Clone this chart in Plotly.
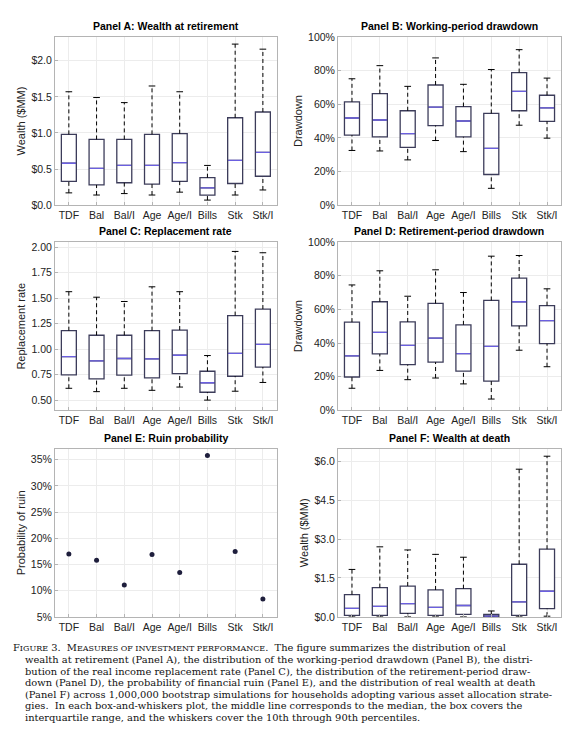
import plotly.graph_objects as go

strategies = ["TDF", "Bal", "Bal/I", "Age", "Age/I", "Bills", "Stk", "Stk/I"]

# Panel A: wealth at retirement ($MM) - 10th, 25th, 50th, 75th, 90th pct
a_p10 = [0.17, 0.14, 0.16, 0.14, 0.18, 0.07, 0.14, 0.21]
a_p25 = [0.33, 0.28, 0.31, 0.29, 0.33, 0.14, 0.30, 0.40]
a_p50 = [0.58, 0.51, 0.55, 0.55, 0.59, 0.24, 0.62, 0.73]
a_p75 = [0.98, 0.91, 0.91, 0.98, 0.99, 0.38, 1.21, 1.29]
a_p90 = [1.57, 1.49, 1.42, 1.65, 1.57, 0.55, 2.23, 2.16]

# Panel B: working-period drawdown (%)
b_p10 = [32.5, 32.2, 26.9, 38.4, 31.8, 10.0, 47.5, 39.8]
b_p25 = [41.6, 40.6, 34.3, 47.3, 40.6, 18.2, 56.1, 49.8]
b_p50 = [51.8, 50.6, 42.5, 58.2, 50.0, 33.7, 67.6, 57.8]
b_p75 = [61.4, 66.3, 56.1, 71.4, 58.6, 54.5, 78.8, 65.3]
b_p90 = [75.1, 82.9, 70.6, 87.5, 71.8, 80.6, 92.4, 75.5]

# Panel C: replacement rate
c_p10 = [0.616, 0.583, 0.616, 0.596, 0.628, 0.500, 0.587, 0.673]
c_p25 = [0.747, 0.709, 0.744, 0.718, 0.760, 0.577, 0.734, 0.824]
c_p50 = [0.927, 0.885, 0.908, 0.905, 0.940, 0.670, 0.959, 1.046]
c_p75 = [1.181, 1.136, 1.136, 1.181, 1.187, 0.783, 1.329, 1.393]
c_p90 = [1.563, 1.509, 1.467, 1.611, 1.563, 0.937, 1.958, 1.945]

# Panel D: retirement-period drawdown (%)
d_p10 = [13.1, 23.7, 18.2, 19.2, 15.7, 6.7, 35.7, 25.9]
d_p25 = [19.8, 33.5, 27.1, 28.6, 23.3, 17.3, 50.2, 39.6]
d_p50 = [32.4, 46.3, 38.6, 42.9, 33.7, 38.0, 64.5, 53.3]
d_p75 = [52.4, 64.5, 52.5, 63.5, 50.8, 65.3, 78.6, 62.2]
d_p90 = [74.5, 82.9, 67.8, 83.5, 70.0, 91.6, 92.0, 72.2]

# Panel E: probability of ruin (%)
ruin_prob = [17.0, 15.8, 11.1, 16.9, 13.5, 35.8, 17.5, 8.4]

# Panel F: wealth at death ($MM)
f_p10 = [0.00, 0.00, 0.00, 0.00, 0.00, 0.00, 0.00, 0.03]
f_p25 = [0.06, 0.06, 0.14, 0.06, 0.10, 0.00, 0.06, 0.32]
f_p50 = [0.33, 0.41, 0.51, 0.37, 0.44, 0.03, 0.58, 0.99]
f_p75 = [0.86, 1.13, 1.19, 1.04, 1.09, 0.10, 2.03, 2.61]
f_p90 = [1.83, 2.70, 2.58, 2.41, 2.30, 0.23, 5.69, 6.19]

# y tick labels per panel
a_ticks = ["$0.0", "$0.5", "$1.0", "$1.5", "$2.0"]
pct_ticks = ["0%", "20%", "40%", "60%", "80%", "100%"]
c_ticks = ["0.50", "0.75", "1.00", "1.25", "1.50", "1.75", "2.00"]
e_ticks = ["5%", "10%", "15%", "20%", "25%", "30%", "35%"]
f_ticks = ["$0.0", "$1.5", "$3.0", "$4.5", "$6.0"]

caption_lines = [
    "F<span style='font-size:8px'>IGURE</span> 3.  M<span style='font-size:8px'>EASURES OF INVESTMENT PERFORMANCE</span>.  The figure summarizes the distribution of real",
    "wealth at retirement (Panel A), the distribution of the working-period drawdown (Panel B), the distri-",
    "bution of the real income replacement rate (Panel C), the distribution of the retirement-period draw-",
    "down (Panel D), the probability of financial ruin (Panel E), and the distribution of real wealth at death",
    "(Panel F) across 1,000,000 bootstrap simulations for households adopting various asset allocation strate-",
    "gies.  In each box-and-whiskers plot, the middle line corresponds to the median, the box covers the",
    "interquartile range, and the whiskers cover the 10th through 90th percentiles.",
]

BOX_COL = "#3c3c5a"
MED_COL = "#6b5fe0"
FONT = "Liberation Sans"
pos = list(range(1, len(strategies) + 1))
half = 0.27
cap = 0.12

fig = go.Figure()


def add_boxes(ax, p10, p25, p50, p75, p90):
    xa = "x" if ax == 1 else f"x{ax}"
    ya = "y" if ax == 1 else f"y{ax}"
    # dashed whiskers
    wx, wy = [], []
    for i, x in enumerate(pos):
        wx += [x, x, None, x, x, None]
        wy += [p75[i], p90[i], None, p10[i], p25[i], None]
    fig.add_trace(go.Scatter(x=wx, y=wy, mode="lines", xaxis=xa, yaxis=ya,
                             line=dict(color="black", width=1, dash="4px,3px"),
                             hoverinfo="skip", showlegend=False))
    # caps
    cx, cy = [], []
    for i, x in enumerate(pos):
        cx += [x - cap, x + cap, None, x - cap, x + cap, None]
        cy += [p90[i], p90[i], None, p10[i], p10[i], None]
    fig.add_trace(go.Scatter(x=cx, y=cy, mode="lines", xaxis=xa, yaxis=ya,
                             line=dict(color="black", width=1),
                             hoverinfo="skip", showlegend=False))
    fig.add_trace(go.Box(x=pos, q1=p25, median=p50, q3=p75,
                         lowerfence=p25, upperfence=p75,
                         xaxis=xa, yaxis=ya, width=2 * half, whiskerwidth=0,
                         fillcolor="white", line=dict(color=BOX_COL, width=1.3),
                         showlegend=False, hoverinfo="skip"))
    mx, my = [], []
    for i, x in enumerate(pos):
        mx += [x - half + 0.02, x + half - 0.02, None]
        my += [p50[i], p50[i], None]
    fig.add_trace(go.Scatter(x=mx, y=my, mode="lines", xaxis=xa, yaxis=ya,
                             line=dict(color=MED_COL, width=1.3),
                             hoverinfo="skip", showlegend=False))


add_boxes(1, a_p10, a_p25, a_p50, a_p75, a_p90)
add_boxes(2, b_p10, b_p25, b_p50, b_p75, b_p90)
add_boxes(3, c_p10, c_p25, c_p50, c_p75, c_p90)
add_boxes(4, d_p10, d_p25, d_p50, d_p75, d_p90)
fig.add_trace(go.Scatter(x=pos, y=ruin_prob, mode="markers", xaxis="x5", yaxis="y5",
                         marker=dict(color="#1e1e3c", size=5), showlegend=False))
add_boxes(6, f_p10, f_p25, f_p50, f_p75, f_p90)

# panel geometry (paper fractions)
xdom = [[0.082, 0.469], [0.576, 0.965]]
ydom = [[0.741, 0.969], [0.463, 0.691], [0.183, 0.411]]

axis_common = dict(showline=True, mirror=True, linecolor="#b4b4b4", linewidth=1,
                   showgrid=True, gridcolor="#ececec", gridwidth=1, zeroline=False,
                   ticks="inside", ticklen=3, tickcolor="#b4b4b4",
                   tickfont=dict(family=FONT, size=10.5, color="#222"))

yspecs = [
    ([0, 2.33], [0, 0.5, 1.0, 1.5, 2.0], a_ticks, "Wealth ($MM)"),
    ([0, 100], [0, 20, 40, 60, 80, 100], pct_ticks, "Drawdown"),
    ([0.40, 2.05], [0.5, 0.75, 1.0, 1.25, 1.5, 1.75, 2.0], c_ticks, "Replacement rate"),
    ([0, 100], [0, 20, 40, 60, 80, 100], pct_ticks, "Drawdown"),
    ([5, 37.1], [5, 10, 15, 20, 25, 30, 35], e_ticks, "Probability of ruin"),
    ([0, 6.48], [0, 1.5, 3.0, 4.5, 6.0], f_ticks, "Wealth ($MM)"),
]
titles = ["Panel A: Wealth at retirement", "Panel B: Working-period drawdown",
          "Panel C: Replacement rate", "Panel D: Retirement-period drawdown",
          "Panel E: Ruin probability", "Panel F: Wealth at death"]

layout = {}
annotations = []
for k in range(6):
    row, col = divmod(k, 2)
    n = "" if k == 0 else str(k + 1)
    rng, tv, tt, ttl = yspecs[k]
    layout["xaxis" + n] = dict(axis_common, domain=xdom[col], anchor="y" + n,
                               range=[0.5, 8.5], tickvals=pos, ticktext=strategies)
    layout["yaxis" + n] = dict(axis_common, domain=ydom[row], anchor="x" + n,
                               range=rng, tickvals=tv, ticktext=tt,
                               title=dict(text=ttl, standoff=3,
                                          font=dict(family=FONT, size=11, color="#222")))
    annotations.append(dict(text="<b>" + titles[k] + "</b>", xref="paper", yref="paper",
                            x=sum(xdom[col]) / 2, y=ydom[row][1] + 0.004,
                            xanchor="center", yanchor="bottom", showarrow=False,
                            font=dict(family=FONT, size=10.5, color="black")))

for j, line in enumerate(caption_lines):
    annotations.append(dict(text=line, xref="paper", yref="paper",
                            x=(3 if j == 0 else 15) / 573, y=1 - (644 + j * 11.85) / 750,
                            xanchor="left", yanchor="middle", showarrow=False,
                            font=dict(family="DejaVu Serif", size=9.9, color="#111")))

fig.update_layout(**layout)
fig.update_layout(width=573, height=750, margin=dict(l=0, r=0, t=0, b=0),
                  paper_bgcolor="white", plot_bgcolor="white",
                  annotations=annotations, showlegend=False)

fig.write_html("out.html")
